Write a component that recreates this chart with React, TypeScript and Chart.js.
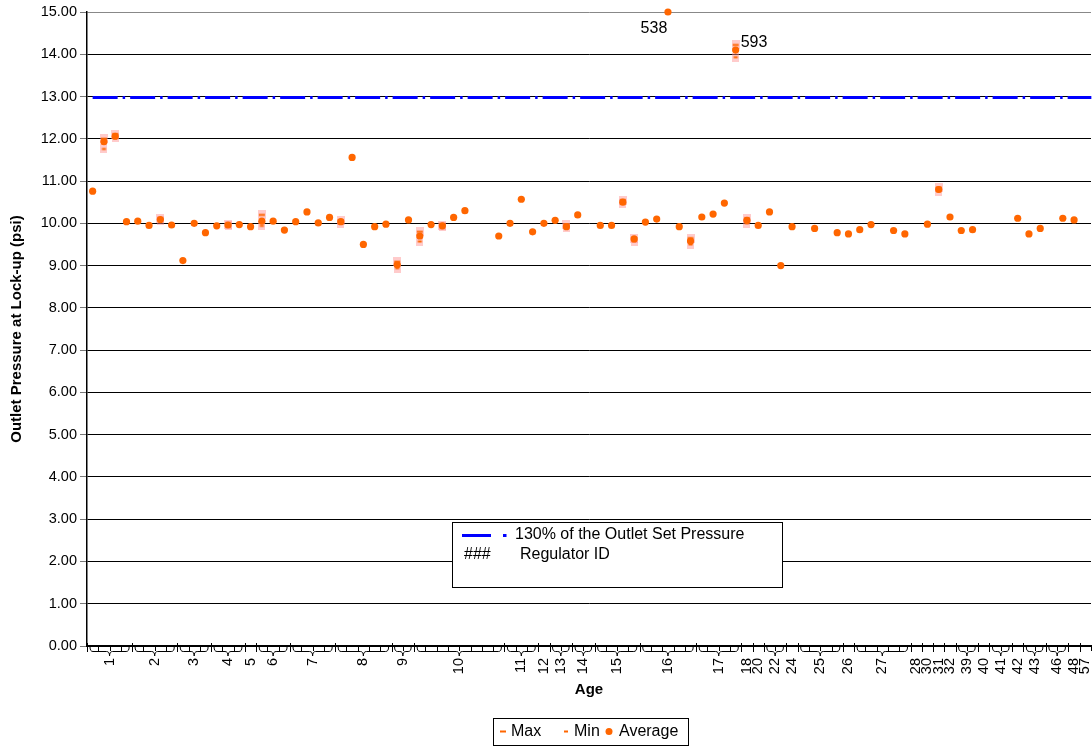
import { useEffect, useRef } from 'react';
import { Chart, registerables } from 'chart.js';

Chart.register(...registerables);

const N = null;

// Outer category level: Age groups and how many regulator slots each holds
const ageLabels = ['1', '2', '3', '4', '5', '6', '7', '8', '9', '10', '11', '12', '13', '14', '15', '16', '17', '18', '20', '22', '24', '25', '26', '27', '28', '30', '31', '32', '39', '40', '41', '42', '43', '46', '48', '57'];
const ageSlotCounts = [4, 4, 3, 3, 1, 3, 4, 5, 2, 8, 3, 1, 2, 2, 4, 5, 4, 1, 1, 2, 1, 4, 1, 5, 1, 1, 1, 1, 2, 1, 2, 1, 2, 2, 1, 1];

// Outlet pressure at lock-up (psi), one slot per regulator
const averageValues: (number | null)[] = [
  10.76, 11.93, 12.06, 10.04, 10.05, 9.95, 10.09, 9.96, 9.12, 10.0,
  9.78, 9.94, 9.96, 9.97, 9.92, 10.05, 10.05, 9.84, 10.04, 10.27,
  10.01, 10.14, 10.04, 11.56, 9.5, 9.92, 9.98, 9.02, 10.08, 9.7,
  9.97, 9.94, 10.14, 10.3, N, N, 9.7, 10.0, 10.57, 9.8,
  10.0, 10.07, 9.92, 10.2, N, 9.95, 9.95, 10.5, 9.63, 10.03,
  10.1, 15.0, 9.92, 9.58, 10.15, 10.22, 10.48, 14.1, 10.07, 9.95,
  10.27, 9.0, 9.92, N, 9.88, N, 9.78, 9.75, 9.85, 9.97,
  N, 9.83, 9.75, N, 9.98, 10.8, 10.15, 9.83, 9.85, N,
  N, N, 10.12, 9.75, 9.88, N, 10.12, 10.08, N,
];
const maxValues: (number | null)[] = [
  N, 12.0, 12.11, N, N, N, 10.11, N, N, N,
  N, N, 9.98, N, N, 10.2, N, N, N, N,
  N, N, 10.07, N, N, N, N, 9.09, N, 9.8,
  N, 9.96, N, N, N, N, N, N, N, N,
  N, N, 9.97, N, N, N, N, 10.55, 9.65, N,
  N, N, N, 9.65, N, N, N, 14.22, 10.12, N,
  N, N, N, N, N, N, N, N, N, N,
  N, N, N, N, N, 10.85, N, N, N, N,
  N, N, N, N, N, N, N, N, N,
];
const minValues: (number | null)[] = [
  N, 11.76, 12.02, N, N, N, 10.07, N, N, N,
  N, N, 9.94, N, N, 9.94, N, N, N, N,
  N, N, 10.0, N, N, N, N, 8.94, N, 9.57,
  N, 9.92, N, N, N, N, N, N, N, N,
  N, N, 9.9, N, N, N, N, 10.47, 9.58, N,
  N, N, N, 9.5, N, N, N, 13.93, 10.0, N,
  N, N, N, N, N, N, N, N, N, N,
  N, N, N, N, N, 10.76, N, N, N, N,
  N, N, N, N, N, N, N, N, N,
];

const referenceLevel = 13; // 130% of the outlet set pressure
const idSlots = [51, 57];
const idTexts = ['538', '593'];

const yMin = 0;
const yMax = 15;
const yStep = 1;

const slotLabels: string[] = [];
ageLabels.forEach((a, g) => {
  for (let k = 0; k < ageSlotCounts[g]; k++) slotLabels.push(a);
});

const FONT = "'Liberation Sans', Arial, sans-serif";
const ORANGE = '#FF6600';
const BLUE = '#0000FF';
const REF_DASH = [25, 5, 2.5, 5];
const CANVAS_W = 1096;
const CANVAS_H = 746;

function makeDash(dw: number, dh: number, w: number, h: number) {
  const c = document.createElement('canvas');
  c.width = w;
  c.height = h;
  const g = c.getContext('2d')!;
  g.fillStyle = 'rgba(255,140,140,0.45)';
  g.fillRect(0, 0, w, h);
  g.fillStyle = ORANGE;
  g.fillRect((w - dw) / 2, (h - dh) / 2, dw, dh);
  return c;
}

function brace(ctx: CanvasRenderingContext2D, x0: number, x1: number, yTop: number, yLine: number, yTip: number) {
  const cx = (x0 + x1) / 2;
  const r = Math.min(3, (x1 - x0) / 4);
  ctx.beginPath();
  ctx.moveTo(x0, yTop);
  ctx.quadraticCurveTo(x0, yLine, x0 + r, yLine);
  ctx.lineTo(cx - r, yLine);
  ctx.quadraticCurveTo(cx, yLine, cx, yTip);
  ctx.quadraticCurveTo(cx, yLine, cx + r, yLine);
  ctx.lineTo(x1 - r, yLine);
  ctx.quadraticCurveTo(x1, yLine, x1, yTop);
  ctx.stroke();
}

const decorPlugin = {
  id: 'decor',
  beforeDatasetsDraw(chart: any) {
    const { ctx, scales } = chart;
    const x = scales.x;
    const y = scales.y;
    const yy = Math.round(y.getPixelForValue(referenceLevel)) + 0.5;
    ctx.save();
    ctx.strokeStyle = BLUE;
    ctx.lineWidth = 3;
    ctx.setLineDash(REF_DASH);
    ctx.beginPath();
    ctx.moveTo(x.getPixelForValue(0), yy);
    ctx.lineTo(x.getPixelForValue(slotLabels.length - 1) + 6, yy);
    ctx.stroke();
    ctx.restore();
  },
  afterDraw(chart: any) {
    const { ctx, scales, chartArea } = chart;
    const x = scales.x;
    const bottom = Math.round(chartArea.bottom);
    const w = x.getPixelForValue(1) - x.getPixelForValue(0);
    const boundary = (i: number) => x.getPixelForValue(i) - w / 2;
    ctx.save();
    ctx.strokeStyle = '#000';
    ctx.lineWidth = 1;
    // inner-level tick marks
    ctx.beginPath();
    for (let i = 0; i <= slotLabels.length; i++) {
      const bx = Math.round(boundary(i)) + 0.5;
      ctx.moveTo(bx, bottom);
      ctx.lineTo(bx, bottom + 5);
    }
    ctx.stroke();
    // outer level: separators, braces, labels
    let s = 0;
    ctx.font = `14.5px ${FONT}`;
    ctx.fillStyle = '#000';
    ageSlotCounts.forEach((cnt, g) => {
      const b0 = boundary(s);
      const b1 = boundary(s + cnt);
      ctx.beginPath();
      const sx = Math.round(b0) + 0.5;
      ctx.moveTo(sx, bottom - 3);
      ctx.lineTo(sx, bottom + 6);
      ctx.stroke();
      if (cnt >= 2) {
        brace(ctx, b0 + 3, b1 - 3, bottom + 1, bottom + 5.5, bottom + 10);
      }
      const cx = (b0 + b1) / 2;
      ctx.save();
      ctx.translate(cx, bottom + 12);
      ctx.rotate(-Math.PI / 2);
      ctx.textAlign = 'right';
      ctx.textBaseline = 'middle';
      ctx.fillText(ageLabels[g], 0, 0);
      ctx.restore();
      s += cnt;
    });

    // regulator ID labels
    const avgMeta = chart.getDatasetMeta(2);
    ctx.font = `16px ${FONT}`;
    ctx.textBaseline = 'middle';
    idSlots.forEach((slot, k) => {
      const pt = avgMeta.data[slot];
      if (!pt) return;
      if (k === 0) {
        ctx.textAlign = 'center';
        ctx.fillText(idTexts[k], pt.x - 14, pt.y + 17);
      } else {
        ctx.textAlign = 'left';
        ctx.fillText(idTexts[k], pt.x + 5, pt.y - 7);
      }
    });

    // inner legend box
    ctx.fillStyle = '#fff';
    ctx.fillRect(452.5, 522.5, 330, 65);
    ctx.strokeStyle = '#000';
    ctx.lineWidth = 1;
    ctx.strokeRect(452.5, 522.5, 330, 65);
    ctx.save();
    ctx.strokeStyle = BLUE;
    ctx.lineWidth = 3;
    ctx.beginPath();
    ctx.moveTo(462, 535.5);
    ctx.lineTo(491, 535.5);
    ctx.moveTo(503, 535.5);
    ctx.lineTo(506.5, 535.5);
    ctx.stroke();
    ctx.restore();
    ctx.fillStyle = '#000';
    ctx.textAlign = 'left';
    ctx.textBaseline = 'middle';
    ctx.font = `16px ${FONT}`;
    ctx.fillText('130% of the Outlet Set Pressure', 515, 535);
    ctx.fillText('###', 464, 555);
    ctx.fillText('Regulator ID', 520, 555);

    // bottom legend
    const ds = chart.data.datasets;
    ctx.strokeRect(493.5, 718.5, 195, 27);
    const ly = 731.5;
    ctx.fillStyle = ORANGE;
    ctx.fillRect(500, ly - 1, 6, 2);
    ctx.fillRect(564, ly - 1, 4, 2);
    ctx.beginPath();
    ctx.arc(609, ly, 3.5, 0, Math.PI * 2);
    ctx.fill();
    ctx.fillStyle = '#000';
    ctx.fillText(ds[0].label, 511, ly);
    ctx.fillText(ds[1].label, 574, ly);
    ctx.fillText(ds[2].label, 619, ly);
    ctx.restore();
  },
};

export default function App() {
  const ref = useRef<HTMLCanvasElement>(null);
  useEffect(() => {
    const canvas = ref.current!;
    Chart.defaults.font.family = FONT;
    const maxImg = makeDash(6, 2, 8, 9);
    const minImg = makeDash(4, 2, 7, 9);
    const chart = new Chart(canvas, {
      type: 'line',
      data: {
        labels: slotLabels,
        datasets: [
          {
            label: 'Max',
            data: maxValues,
            showLine: false,
            pointStyle: maxImg as any,
            pointRadius: 4,
            clip: false as any,
            order: 1,
          },
          {
            label: 'Min',
            data: minValues,
            showLine: false,
            pointStyle: minImg as any,
            pointRadius: 4,
            clip: false as any,
            order: 2,
          },
          {
            label: 'Average',
            data: averageValues,
            showLine: false,
            pointStyle: 'circle',
            pointRadius: 3.6,
            pointBorderWidth: 0,
            pointBackgroundColor: ORANGE,
            pointBorderColor: ORANGE,
            clip: false as any,
            order: 0,
          },
        ],
      },
      options: {
        animation: false,
        responsive: false,
        devicePixelRatio: 1,
        events: [],
        layout: { padding: { top: 12, left: 0, right: 0, bottom: 0 } },
        plugins: { legend: { display: false }, tooltip: { enabled: false } },
        scales: {
          x: {
            type: 'category',
            offset: true,
            grid: { display: false },
            border: { display: true, color: '#000', width: 1.5 },
            ticks: { display: false },
            title: {
              display: true,
              text: 'Age',
              color: '#000',
              font: { size: 15, weight: 'bold', family: FONT },
              padding: { top: 0, bottom: 47 },
            },
            afterFit: (s: any) => {
              s.height = 100;
            },
          },
          y: {
            min: yMin,
            max: yMax,
            ticks: {
              stepSize: yStep,
              color: '#000',
              font: { size: 14.5, family: FONT },
              padding: 3,
              callback: (v: any) => Number(v).toFixed(2),
            },
            grid: {
              color: (c: any) => (c.tick && c.tick.value === yMax ? '#888' : '#000'),
              lineWidth: 1,
              tickLength: 7,
              tickColor: '#777',
            },
            border: { color: '#000', width: 1.5 },
            title: {
              display: true,
              text: 'Outlet Pressure at Lock-up (psi)',
              color: '#000',
              font: { size: 15, weight: 'bold', family: FONT },
              padding: { top: 8, bottom: 0 },
            },
            afterFit: (s: any) => {
              s.width = 87;
            },
          },
        },
      },
      plugins: [decorPlugin],
    } as any);
    return () => chart.destroy();
  }, []);
  return (
    <div style={{ position: 'fixed', left: 0, top: 0, width: 1092, height: CANVAS_H, background: '#fff', overflow: 'hidden' }}>
      <canvas ref={ref} width={CANVAS_W} height={CANVAS_H} style={{ display: 'block', width: CANVAS_W, height: CANVAS_H }} />
    </div>
  );
}
